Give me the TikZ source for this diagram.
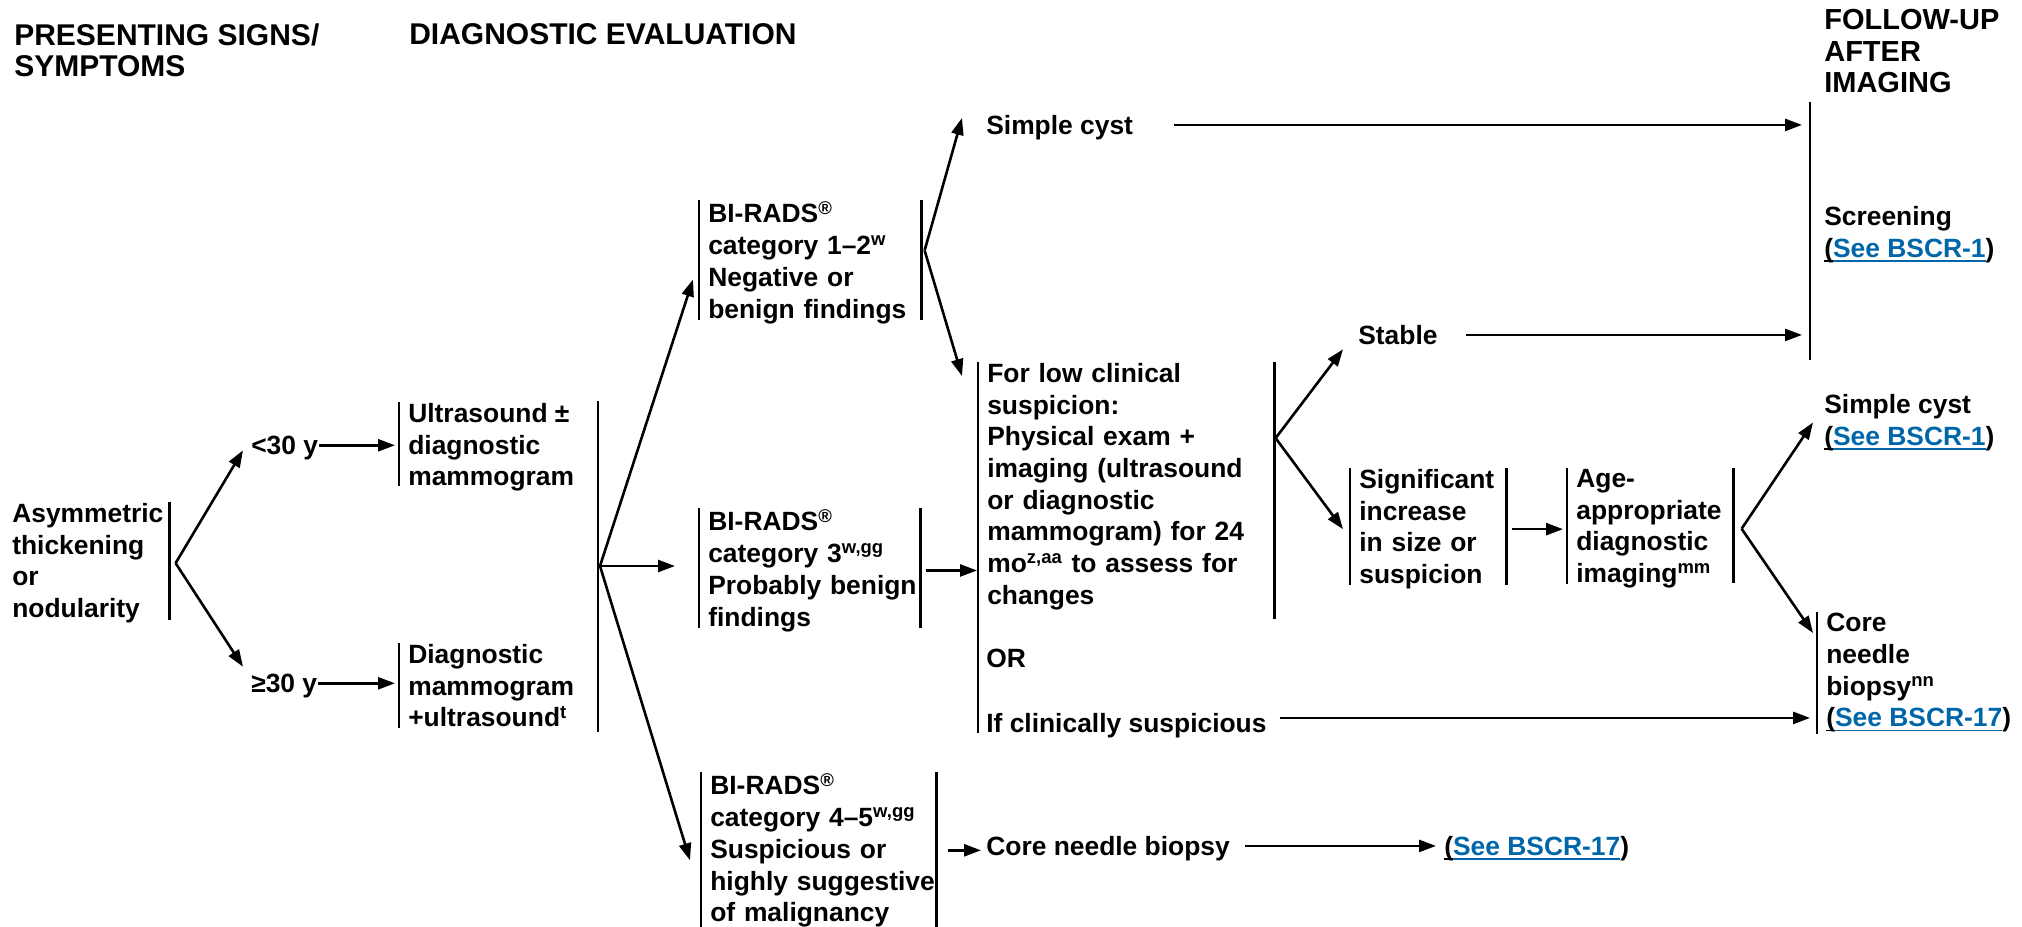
\documentclass[tikz,border=0pt]{standalone}
\usepackage{fontspec}
\setmainfont{Liberation Sans}
\usetikzlibrary{arrows.meta}

\definecolor{linkblue}{RGB}{0,102,170}
\newsavebox{\ulbox}
\newcommand{\ulfix}[1]{\sbox{\ulbox}{#1}\rlap{\rule[-2.2pt]{\wd\ulbox}{0.8pt}}\usebox{\ulbox}}
\newcommand{\seebscr}[1]{\ulfix{(}{\color{linkblue}\ulfix{See BSCR-#1}})}

\begin{document}
\begin{tikzpicture}[x=0.5pt,y=-0.5pt,line width=1.3pt,
    every node/.style={font=\fontsize{13.2pt}{15.85pt}\selectfont\bfseries},
    box/.style={anchor=north west,align=left,inner xsep=4pt,inner ysep=0pt},
    lbl/.style={anchor=base west,inner sep=0pt,text depth=0pt},
    head/.style={anchor=north west,align=left,inner sep=0pt,font=\fontsize{15pt}{15.85pt}\selectfont\bfseries},
    arr/.style={-{Triangle[length=8.5pt,width=6pt]}}] %Asymmetric thickening workup
            \useasboundingbox (0,0) rectangle (2022,926);

            \node[head] (hdrA) at (13,22) {PRESENTING SIGNS/\\SYMPTOMS};
            \node[head] (hdrB) at (408,22) {DIAGNOSTIC EVALUATION};
            \node[head,font=\fontsize{14.5pt}{15.85pt}\selectfont\bfseries] (hdrC) at (1823,8) {FOLLOW-UP\\AFTER\\IMAGING};

            \node[box,text width=74pt] (asym) at (3,502) {\mbox{Asymmetric}\\thickening\\or\\nodularity};
            \node[lbl] (lt30) at (250,454.5) {<30 y};
            \node[lbl] (ge30) at (250,692.5) {≥30 y};

            \node[box] (us) at (399,402) {Ultrasound ±\\diagnostic\\mammogram};
            \node[box] (diag) at (399,643) {Diagnostic\\mammogram\\+ultrasound\textsuperscript{t}};

            \coordinate (bigT) at (598,401);
            \coordinate (bigB) at (598,732);
            \coordinate (fkB) at (600,566);

            \node[box,text width=102pt] (b12) at (699,200) {BI-RADS\textsuperscript{®}\\category 1–2\textsuperscript{w}\\Negative or\\\mbox{benign findings}};
            \node[box,text width=101.5pt] (b3) at (699,508) {BI-RADS\textsuperscript{®}\\category 3\textsuperscript{w,gg}\\\mbox{Probably benign}\\findings};
            \node[box,text width=108.5pt] (b45) at (701,772) {BI-RADS\textsuperscript{®}\\category 4–5\textsuperscript{w,gg}\\Suspicious or\\\mbox{highly suggestive}\\of malignancy};

            \node[lbl] (sc1) at (985,134.5) {Simple cyst};
            \node[box,text width=139pt] (low) at (978,362) {For low clinical\\suspicion:\\Physical exam +\\imaging (ultrasound\\or diagnostic\\mammogram) for 24\\mo\textsuperscript{z,aa} to assess for\\changes};
            \node[lbl] (orx) at (985,667.5) {OR};
            \node[lbl] (susp) at (985,732.5) {If clinically suspicious};
            \node[lbl] (cnb) at (985,855.5) {Core needle biopsy};
            \node[lbl] (see17) at (1443,855.5) {\seebscr{17}};

            \node[lbl] (stab) at (1357,344.5) {Stable};
            \node[box,text width=69pt] (sig) at (1350,468) {\mbox{Significant}\\increase\\in size or\\suspicion};
            \node[box,text width=74pt] (age) at (1567,468) {Age-\\\mbox{appropriate}\\diagnostic\\imaging\textsuperscript{mm}};

            \coordinate (fuT) at (1810,102);
            \coordinate (fuB) at (1810,360);
            \node[box] (scr) at (1815,205) {Screening\\\seebscr{1}};
            \node[box] (sc2) at (1815,393) {Simple cyst\\\seebscr{1}};
            \node[box] (core) at (1817,612) {Core\\needle\\biopsy\textsuperscript{nn}\\\seebscr{17}};

            \coordinate (fkA) at ([xshift=3pt]asym.east);
            \coordinate (fkC) at ([xshift=1.5pt,yshift=6pt]b12.east);
            \coordinate (fkD) at ([xshift=0.5pt,yshift=24.25pt]low.east);
            \coordinate (fkE) at ([xshift=4pt]age.east);

            \draw (asym.north east) -- ([yshift=2pt]asym.south east);
            \draw (us.north west) -- ([yshift=3.5pt]us.south west);
            \draw (diag.north west) -- (diag.south west);
            \draw (bigT) -- (bigB);
            \draw (b12.north west) -- ([yshift=2.5pt]b12.south west);
            \draw (b12.north east) -- ([yshift=2.5pt]b12.south east);
            \draw (b3.north west) -- ([yshift=2.5pt]b3.south west);
            \draw (b3.north east) -- ([yshift=2.5pt]b3.south east);
            \draw (b45.north west) -- (b45.south west);
            \draw (b45.north east) -- (b45.south east);
            \draw (low.north west) -- (low.north west |- susp.base);
            \draw (low.north east) -- ([yshift=-4pt]low.south east);
            \draw (sig.north west) -- ([yshift=2.5pt]sig.south west);
            \draw (sig.north east) -- ([yshift=2.5pt]sig.south east);
            \draw (age.north west) -- ([yshift=2.5pt]age.south west);
            \draw (age.north east) -- ([yshift=3pt]age.south east);
            \draw (fuT) -- (fuB);
            \draw (core.north west) -- (core.south west);

            \draw[arr] (fkA) -- ([shift={(-3.5pt,-2.5pt)}]lt30.west);
            \draw[arr] (fkA) -- ([shift={(-3.5pt,3pt)}]ge30.north west);
            \draw[arr,shorten >=2pt] (lt30.east) -- (lt30.east -| us.west);
            \draw[arr,shorten >=2pt] (ge30.east) -- (ge30.east -| diag.west);

            \draw[arr] (fkB) -- ([shift={(-3pt,-8.5pt)}]b12.west);
            \draw[arr,shorten >=12pt] (fkB) -- (fkB -| b3.west);
            \draw[arr] (fkB) -- ([shift={(-5.5pt,-5pt)}]b45.west);

            \draw[arr] (fkC) -- ([shift={(-11.5pt,3.5pt)}]sc1.west);
            \draw[arr] (fkC) -- ([shift={(-8pt,-7pt)}]low.north west);
            \draw[arr,shorten <=2.5pt,shorten >=0.5pt] (b3.east) -- (b3.east -| low.west);
            \draw[arr,shorten <=5.5pt,shorten >=2pt] (b45.east) -- (b45.east -| cnb.west);
            \draw[arr,shorten <=7pt,shorten >=3.5pt] (cnb.east) -- (cnb.east -| see17.west);

            \draw[arr] (fkD) -- ([shift={(-7pt,-1.75pt)}]stab.south west);
            \draw[arr] (fkD) -- ([xshift=-3.5pt]sig.west);
            \draw[arr,shorten <=2.5pt,shorten >=2pt] (sig.east) -- (sig.east -| age.west);

            \draw[arr] (fkE) -- ([xshift=-1pt]sc2.west);
            \draw[arr] (fkE) -- ([shift={(-2pt,-10.5pt)}]core.north west);

            \draw[arr,shorten <=20pt,shorten >=4pt] (sc1.east) -- (sc1.east -| fuT);
            \draw[arr,shorten <=13.5pt,shorten >=4pt] (stab.east) -- (stab.east -| fuT);
            \draw[arr,shorten <=6pt,shorten >=3.5pt] ([yshift=2.5pt]susp.east) -- ([yshift=2.5pt]susp.east -| core.west);
        \end{tikzpicture}
\end{document}
